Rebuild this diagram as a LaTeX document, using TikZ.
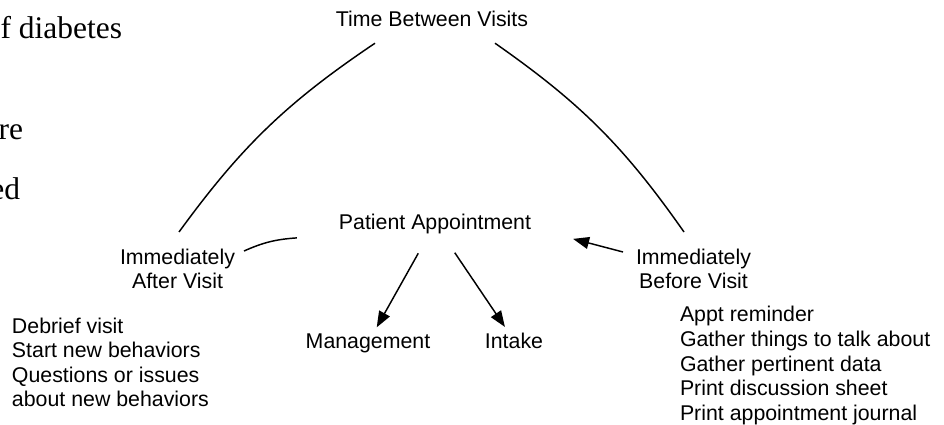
\documentclass[tikz,border=0pt]{standalone}
\usepackage{fontspec}
\setmainfont{Liberation Sans}
\newfontfamily\bodyserif{Liberation Serif}
\usetikzlibrary{arrows.meta,calc}

\tikzset{
  lbl/.style={inner sep=0pt, outer sep=0pt, font=\fontsize{16}{18.4}\selectfont, text=black},
  note/.style={lbl, align=left},
  pagetext/.style={inner sep=0pt, outer sep=0pt, font=\bodyserif\fontsize{23.6}{28}\selectfont, text=black},
  arc/.style={line width=1.1pt, draw=black},
  arr/.style={line width=1.1pt, draw=black, -{Triangle[length=12pt,width=9pt]}}
}

\begin{document}
\begin{tikzpicture}[x=0.75pt, y=0.75pt]
  % canvas: 944 x 424 units, y grows downwards as negative values
  \useasboundingbox (0,0) rectangle (944,-424);
  \clip (0,0) rectangle (944,-424);
  \fill[white] (0,0) rectangle (944,-424);

  % line ends of the neighbouring text column
  \node[pagetext, anchor=base east] (col1) at (122,-39) {f diabetes};
  \node[pagetext, anchor=base east] (col2) at (23,-139) {re};
  \node[pagetext, anchor=base east] (col3) at (20,-199) {ed};

  % cycle nodes
  \node[lbl, anchor=base] (tbv) at (432,-27) {Time Between Visits};
  \node[lbl, anchor=base] (pa) at (435,-229) {Patient Appointment};
  \node[lbl, align=center, anchor=north] (after) at (177.5,-248.7) {Immediately\\After Visit};
  \node[lbl, align=center, anchor=north] (before) at (693.5,-248.7) {Immediately\\Before Visit};
  \node[lbl, anchor=base] (mgmt) at (368,-348) {Management};
  \node[lbl, anchor=base] (intake) at (514,-348) {Intake};

  % task lists
  \node[note, anchor=north west] (afterlist) at (12,-317.7)
    {Debrief visit\\Start new behaviors\\Questions or issues\\about new behaviors};
  \node[note, anchor=north west] (beforelist) at (680,-306.5)
    {Appt reminder\\Gather things to talk about\\Gather pertinent data\\Print discussion sheet\\Print appointment journal};

  % the long arc between visits
  \draw[arc] ($(after.north)+(1.5,16.7)$) to[bend left=10] ($(tbv.south)+(-57,-16)$);
  \draw[arc] ($(tbv.south)+(63,-16)$) to[bend left=10] ($(before.north)+(-9.5,16.7)$);

  % links around the appointment
  \draw[arc] ($(after.north east)+(9,-2.3)$) to[bend left=10] ($(pa.west)+(-42,-14.4)$);
  \draw[arr] ($(before.north west)+(-13,-3.3)$) -- ($(pa.east)+(42,-15.4)$);
  \draw[arr] ($(pa.center)!0.25!(mgmt.center)$) -- ($(pa.center)!0.87!(mgmt.center)$);
  \draw[arr] ($(pa.center)!0.25!(intake.center)$) -- ($(pa.center)!0.885!(intake.center)$);
\end{tikzpicture}
\end{document}
